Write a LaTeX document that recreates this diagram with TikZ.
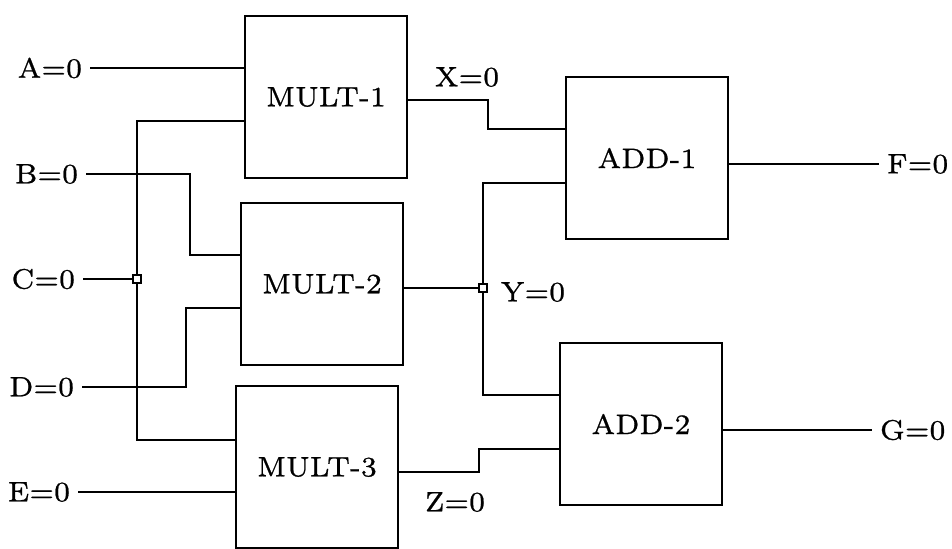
\documentclass[tikz,border=0pt]{standalone}
\usepackage{fontspec}
\setmainfont{lmroman7-regular.otf}[RawFeature={embolden=0.8}]
\begin{document}
\begin{tikzpicture}[x=0.025cm, y=-0.025cm, line width=1.3pt,
    every node/.style={font=\fontsize{20}{24}\selectfont},
    gate/.style={draw, minimum width=4.05cm, minimum height=4.05cm},
    sig/.style={inner xsep=5pt, inner ysep=1pt},
    tap/.style={draw, fill=white, minimum size=0.19cm, inner sep=0pt}]
  \useasboundingbox (0,0) rectangle (952,548);
  \node[gate] (M1) at (326,97) {MULT-1};
  \node[gate] (M2) at (322,284) {MULT-2};
  \node[gate] (M3) at (317,467) {MULT-3};
  \node[gate] (A1) at (647,158) {ADD-1};
  \node[gate] (A2) at (641,424) {ADD-2};

  \node[sig, anchor=east] (A) at (90,68) {A=0};
  \node[sig, anchor=east] (B) at (86,174) {B=0};
  \node[sig, anchor=east] (C) at (83,279) {C=0};
  \node[sig, anchor=east] (D) at (82,387) {D=0};
  \node[sig, anchor=east] (E) at (78,492) {E=0};
  \node[sig, anchor=west] (F) at (879,164) {F=0};
  \node[sig, anchor=west] (G) at (872,430) {G=0};
  \node (X) at (467,77) {X=0};
  \node (Y) at (533,292) {Y=0};
  \node (Z) at (455,502) {Z=0};

  \node[tap] (jC) at (137,279) {};
  \node[tap] (jY) at (483,288) {};
  \coordinate (c1) at (137,121);
  \coordinate (c3) at (137,440);
  \coordinate (b1) at (190,174);
  \coordinate (b2) at (190,255);
  \coordinate (d1) at (186,387);
  \coordinate (d2) at (186,308);
  \coordinate (x1) at (488,100);
  \coordinate (x2) at (488,129);
  \coordinate (y1) at (483,183);
  \coordinate (y2) at (483,395);
  \coordinate (z1) at (479,472);
  \coordinate (z2) at (479,449);

  \draw (A) -- (A -| M1.west);
  \draw (B) -- (b1) -- (b2) -- (b2 -| M2.west);
  \draw (C) -- (jC);
  \draw (M1.west |- c1) -- (c1) -- (jC) -- (c3) -- (c3 -| M3.west);
  \draw (D) -- (d1) -- (d2) -- (d2 -| M2.west);
  \draw (E) -- (E -| M3.west);
  \draw (M1.east |- x1) -- (x1) -- (x2) -- (x2 -| A1.west);
  \draw (M2.east |- jY) -- (jY);
  \draw (jY) -- (y1) -- (y1 -| A1.west);
  \draw (jY) -- (y2) -- (y2 -| A2.west);
  \draw (M3.east |- z1) -- (z1) -- (z2) -- (z2 -| A2.west);
  \draw (A1.east |- F) -- (F);
  \draw (A2.east |- G) -- (G);
\end{tikzpicture}
\end{document}
